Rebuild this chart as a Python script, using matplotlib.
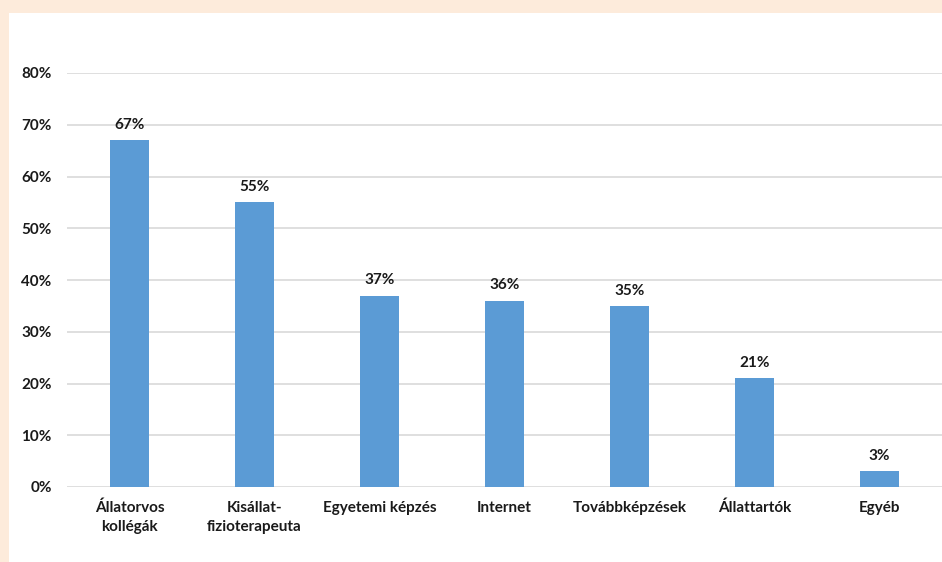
import numpy as np
import matplotlib.pyplot as plt
from matplotlib.patches import Rectangle
from matplotlib.ticker import PercentFormatter

# Data
categories = ['Állatorvos\nkollégák', 'Kisállat-\nfizioterapeuta', 'Egyetemi képzés',
              'Internet', 'Továbbképzések', 'Állattartók', 'Egyéb']
values = [67, 55, 37, 36, 35, 21, 3]
yticks = [0, 10, 20, 30, 40, 50, 60, 70, 80]

plt.rcParams['font.family'] = ['Lato', 'DejaVu Sans']
plt.rcParams['font.weight'] = 'bold'

fig = plt.figure(figsize=(9.42, 5.62), dpi=100, facecolor='#FDEBDB')
# white panel inside the peach frame
fig.patches.append(Rectangle((9/942, 0), 1, 1 - 13/562, transform=fig.transFigure,
                             facecolor='white', edgecolor='none', zorder=-10))

ax = fig.add_axes([67/942, 75/562, 875/942, 414/562])
ax.set_zorder(1)
ax.set_facecolor('none')

x = np.arange(len(categories))
bars = ax.bar(x, values, width=0.31, color='#5B9BD5', zorder=3)
for xi, v in zip(x, values):
    ax.text(xi, v + 1.6, '%d%%' % v, ha='center', va='bottom', fontsize=11,
            fontweight='bold', color='#1a1a1a')

ax.set_xlim(-0.5, len(categories) - 0.5)
ax.set_ylim(0, 80)
ax.set_yticks(yticks)
ax.yaxis.set_major_formatter(PercentFormatter(decimals=0))
ax.set_xticks(x)
ax.set_xticklabels(categories, fontsize=11, fontweight='bold', color='#1a1a1a',
                   linespacing=1.45)
for lab in ax.get_yticklabels():
    lab.set_fontsize(11)
    lab.set_fontweight('bold')
    lab.set_color('#1a1a1a')

ax.grid(axis='y', color='#D9D9D9', linewidth=1.2, zorder=0)
ax.tick_params(axis='both', length=0)
ax.tick_params(axis='y', pad=11)
ax.tick_params(axis='x', pad=10)
for s in ax.spines.values():
    s.set_visible(False)

fig.savefig('out.png', dpi=100, facecolor=fig.get_facecolor())
